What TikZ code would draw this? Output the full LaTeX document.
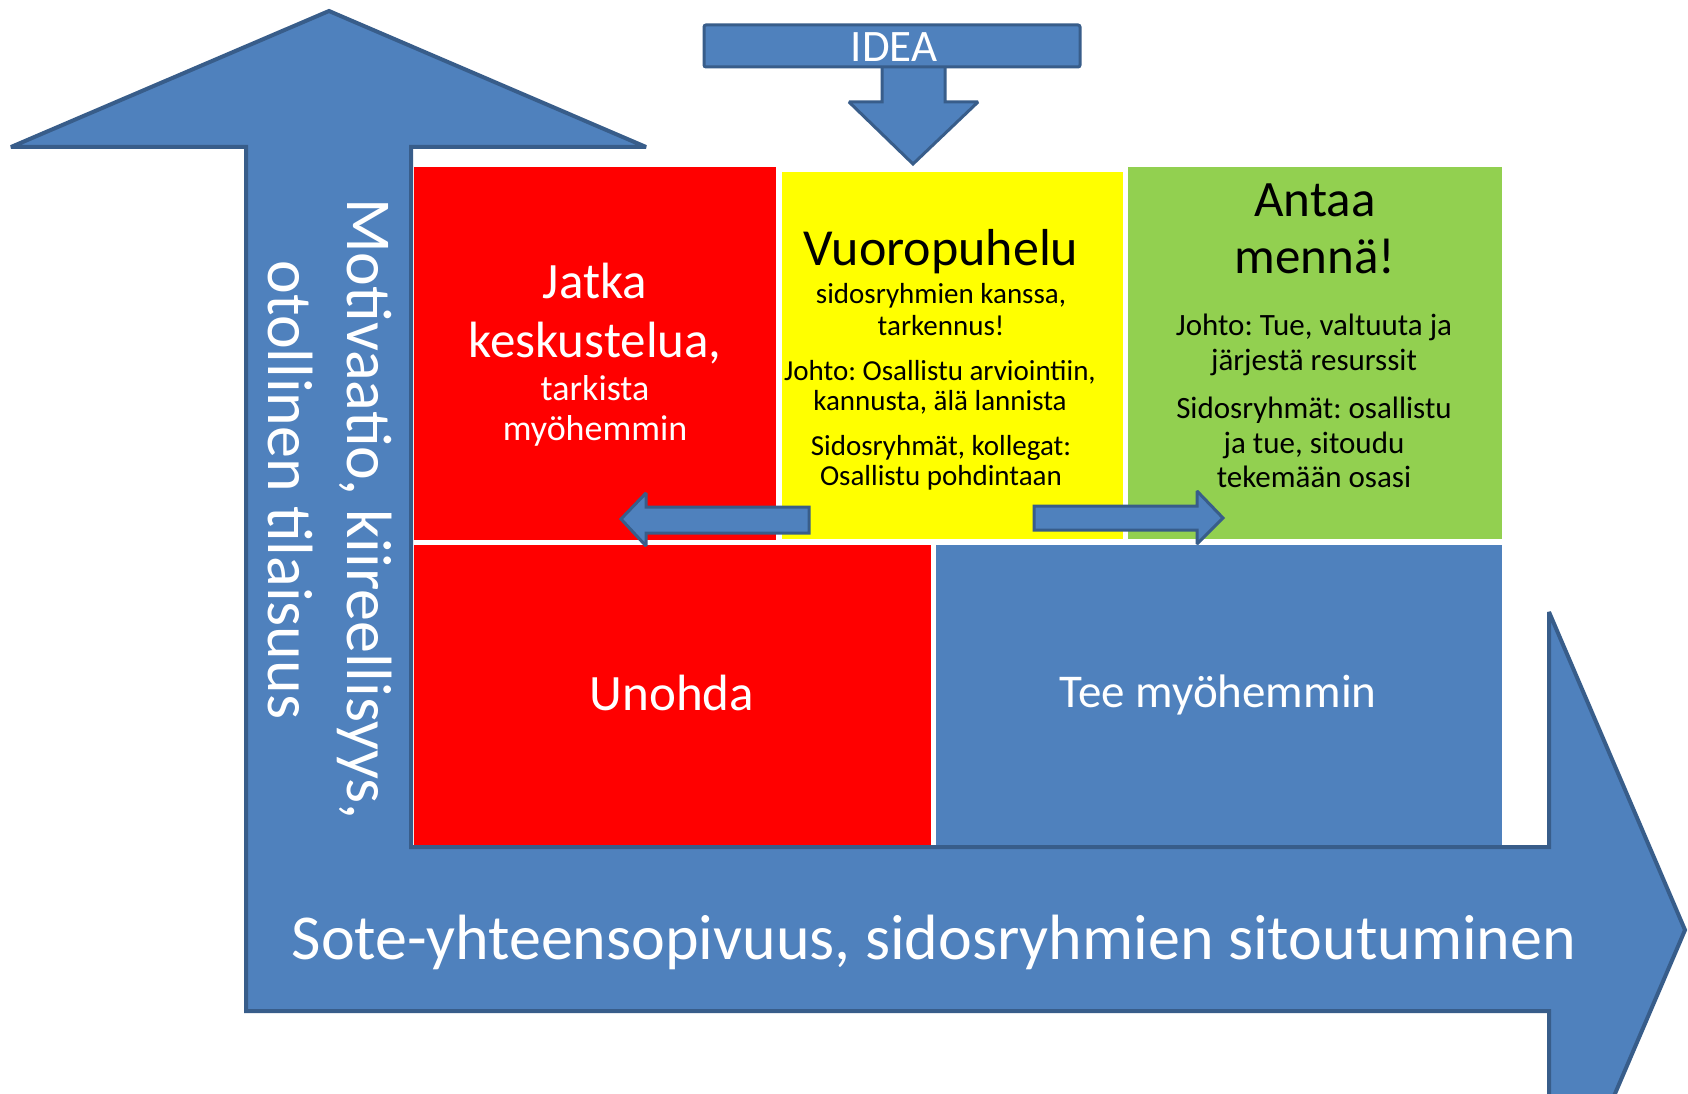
\documentclass[tikz,border=0pt]{standalone}
\usepackage{fontspec}
\setmainfont{Carlito}
\frenchspacing
\definecolor{ablue}{HTML}{4F81BD}
\definecolor{adark}{HTML}{385D8A}
\definecolor{cred}{HTML}{FF0000}
\definecolor{cyel}{HTML}{FFFF00}
\definecolor{cgrn}{HTML}{92D050}
\newcommand\setfs[1]{\fontsize{#1}{#1}\selectfont}
\tikzset{
  bigarrow/.style={fill=ablue, draw=adark, line width=4pt, line join=miter, miter limit=1.5},
  smallarrow/.style={fill=ablue, draw=adark, line width=3pt, line join=miter, miter limit=1.5},
  txt/.style={inner sep=0pt, anchor=base},
  wtxt/.style={txt, text=white},
  btxt/.style={txt, text=black},
}
\begin{document}
\begin{tikzpicture}[x=1pt,y=-1pt]
\useasboundingbox (0,0) rectangle (1688,1094);
\clip (0,0) rectangle (1688,1094);
\fill[white] (0,0) rectangle (1688,1094);

% big bent arrow
\draw[bigarrow] (329,11) -- (646,147) -- (411,147) -- (411,847) -- (1549,847)
  -- (1549,612) -- (1685,930) -- (1549,1248) -- (1549,1011) -- (246,1011)
  -- (246,147) -- (11,147) -- cycle;

% quadrants
\fill[cred] (414,167) rectangle (776,540);
\fill[cyel] (782,172) rectangle (1123,539);
\fill[cgrn] (1128,167) rectangle (1502,539);
\fill[cred] (414,545) rectangle (931,845);
\fill[ablue] (936,545) rectangle (1502,845);

% small arrows
\draw[smallarrow] (809,507) -- (646,507) -- (646,493) -- (621,519) -- (646,546)
  -- (646,533) -- (809,533) -- cycle;
\draw[smallarrow] (1034,506) -- (1197,506) -- (1197,491) -- (1223,518) -- (1197,544)
  -- (1197,530) -- (1034,530) -- cycle;

% IDEA arrow
\draw[smallarrow] (882,60) -- (882,102) -- (849,102) -- (913,164) -- (978,102)
  -- (945,102) -- (945,60) -- cycle;
\draw[smallarrow, rounded corners=2pt] (704,25) rectangle (1080,67);
\node[wtxt, font=\setfs{45}] (idea) at (894,62) {IDEA};

% vertical axis labels
\node[wtxt, rotate=-90, font=\setfs{64}] (vl1) at (347,509) {Motivaatio, kiireellisyys,};
\node[wtxt, rotate=-90, font=\setfs{64}] (vl2) at (268,490) {otollinen tilaisuus};

% horizontal axis label
\node[wtxt, font=\setfs{64}] (hl) at (934,959) {Sote-yhteensopivuus, sidosryhmien sitoutuminen};

% red top box
\node[wtxt, font=\setfs{51}] (j1) at (595,298) {Jatka};
\node[wtxt, font=\setfs{51}] (j2) at (595,357) {keskustelua,};
\node[wtxt, font=\setfs{36}] (j3) at (595,400) {tarkista};
\node[wtxt, font=\setfs{36}] (j4) at (595,440) {myöhemmin};

% yellow box
\node[btxt, font=\setfs{52}] (y1) at (941,265) {Vuoropuhelu};
\node[btxt, font=\setfs{29}] (y2) at (941,303) {sidosryhmien kanssa,};
\node[btxt, font=\setfs{29}] (y3) at (941,335) {tarkennus!};
\node[btxt, font=\setfs{29}] (y4) at (940,380) {Johto: Osallistu arviointiin,};
\node[btxt, font=\setfs{29}] (y5) at (940,410) {kannusta, älä lannista};
\node[btxt, font=\setfs{29}] (y6) at (941,455) {Sidosryhmät, kollegat:};
\node[btxt, font=\setfs{29}] (y7) at (941,485) {Osallistu pohdintaan};

% green box
\node[btxt, font=\setfs{51}] (g1) at (1315,216) {Antaa};
\node[btxt, font=\setfs{51}] (g2) at (1315,273) {mennä!};
\node[btxt, font=\setfs{31}] (g3) at (1314,335) {Johto: Tue, valtuuta ja};
\node[btxt, font=\setfs{31}] (g4) at (1314,370) {järjestä resurssit};
\node[btxt, font=\setfs{31}] (g5) at (1314,418) {Sidosryhmät: osallistu};
\node[btxt, font=\setfs{31}] (g6) at (1314,453) {ja tue, sitoudu};
\node[btxt, font=\setfs{31}] (g7) at (1314,487) {tekemään osasi};

% bottom boxes
\node[wtxt, font=\setfs{51}] (un) at (672,710) {Unohda};
\node[wtxt, font=\setfs{47}] (tee) at (1218,707) {Tee myöhemmin};
\end{tikzpicture}
\end{document}
